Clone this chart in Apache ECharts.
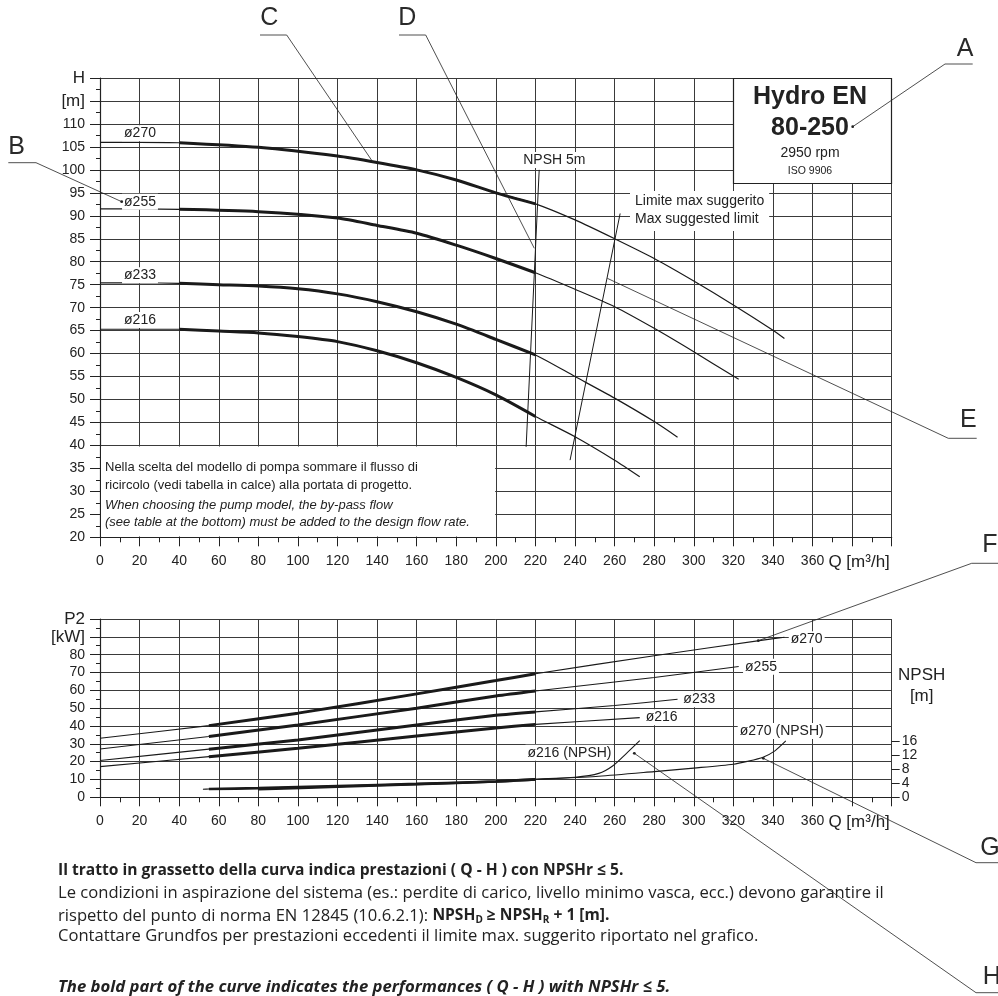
<!DOCTYPE html>
<html><head><meta charset="utf-8">
<script src="https://cdn.jsdelivr.net/npm/echarts@6/dist/echarts.min.js"></script>
<style>html,body{margin:0;padding:0;background:#fff}#c{width:998px;height:996px}</style>
</head><body><div id="c"></div>
<script>
// ---- Q-H curves: [Q m3/h, H m]
const h270 = [[0,106.0],[20,106.0],[40,105.9],[80,104.9],[120,103.0],[140,101.6],[160,100.0],[180,97.8],[200,95.0],[220,92.6],[240,89.1],[260,85.0],[280,80.7],[300,75.8],[320,70.6],[340,65.1],[345.8,63.3]];
const h255 = [[0,91.5],[20,91.5],[40,91.4],[80,90.9],[120,89.5],[140,87.9],[160,86.2],[180,83.6],[200,80.7],[220,77.6],[240,74.0],[260,70.2],[280,65.5],[300,60.4],[320,55.1],[322.7,54.4]];
const h233 = [[0,75.4],[20,75.4],[40,75.3],[60,75.0],[80,74.7],[100,74.1],[120,73.0],[140,71.3],[160,69.1],[180,66.4],[200,63.1],[220,59.7],[240,55.0],[260,50.3],[280,45.2],[291.8,41.8]];
const h216 = [[0,65.3],[20,65.3],[40,65.3],[60,64.9],[80,64.5],[100,63.7],[120,62.6],[140,60.6],[160,58.0],[180,54.8],[200,51.0],[220,46.3],[240,41.9],[260,36.8],[272.7,33.2]];
// ---- P2 curves: [Q, kW]
const p270 = [[0,33.1],[55,40.2],[100,47.2],[160,58.0],[200,65.5],[220,69.3],[280,79.4],[334,88.0],[345.8,89.8]];
const p255 = [[0,27.1],[55,34.1],[100,40.6],[160,50.0],[200,56.8],[220,59.6],[280,67.2],[322.7,73.4]];
const p233 = [[0,20.6],[55,27.0],[100,32.2],[160,40.6],[200,46.0],[220,47.9],[260,51.5],[291.8,55.0]];
const p216 = [[0,17.2],[55,22.8],[100,27.5],[160,34.4],[200,38.9],[220,40.9],[272.7,44.7]];
// ---- NPSH curves: [Q, m]
const n216 = [[52,2.3],[55,2.35],[80,2.6],[120,3.2],[160,3.8],[200,4.5],[220,5.1],[240,5.7],[252,6.8],[259,8.9],[266,12.5],[272.7,16.1]];
const n270 = [[80,2.3],[120,3.0],[160,3.7],[200,4.5],[220,5.1],[252,6.0],[280,7.3],[300,8.3],[320,9.4],[327,10.2],[335,11.4],[341,13.2],[346.5,16.0]];
// ---- reference lines
const npsh5Line = [[221.9,100.0],[215.3,39.7]];
const limitLine = [[237.5,36.8],[262.8,90.5]];
const boldH = [40,220];
const boldP = [55,220];
const boldN = [55,220];
const npshTicks = [0,4,8,12,16];
const hUnit = {120:'H',115:'[m]'};
const pUnit = {100:'P2',90:'[kW]'};
const qUnit = 'Q [m³/h]';

const FF = '"Liberation Sans", Arial, sans-serif';
const INK = '#1a1a1a';
const within = (d, r) => d.filter(p => p[0] >= r[0] && p[0] <= r[1]);

function curve(data, gi, yi, range, thinW, thickW) {
  const base = {type:'line', xAxisIndex:gi, yAxisIndex:yi, showSymbol:false, smooth:0.25, silent:true, animation:false};
  return [
    Object.assign({}, base, {data:data, lineStyle:{color:INK, width:thinW}}),
    Object.assign({}, base, {data:within(data, range), lineStyle:{color:INK, width:thickW}})
  ];
}

function xAx(gi) {
  return {
    type:'value', gridIndex:gi, min:0, max:400, interval:20,
    axisLine:{show:true, onZero:false, lineStyle:{color:'#222', width:1.2}},
    axisTick:{show:true, length:9, lineStyle:{color:'#222'}},
    minorTick:{show:true, splitNumber:2, length:5, lineStyle:{color:'#222'}},
    splitLine:{show:true, lineStyle:{color:'#3a3a3a', width:1}},
    axisLabel:{fontSize:14, color:'#222', fontFamily:FF, margin:17, showMaxLabel:true,
      formatter: v => v === 380 ? '{q|' + qUnit + '}' : (v <= 360 ? String(v) : ''),
      rich:{q:{fontSize:17, fontFamily:FF, color:'#222', padding:[0,0,0,14]}}}
  };
}
function yAx(gi, min, max, itv, units, minorSplit) {
  return {
    type:'value', gridIndex:gi, min:min, max:max, interval:itv,
    axisLine:{show:true, onZero:false, lineStyle:{color:'#222', width:1.2}},
    axisTick:{show:true, length:10, lineStyle:{color:'#222'}},
    minorTick:{show:true, splitNumber:minorSplit, length:4, lineStyle:{color:'#222'}},
    splitLine:{show:true, lineStyle:{color:'#3a3a3a', width:1}},
    axisLabel:{fontSize:14, color:'#222', fontFamily:FF, margin:15, showMaxLabel:true,
      formatter: v => units[v] ? '{u|' + units[v] + '}' : String(v),
      rich:{u:{fontSize:17, fontFamily:FF, color:'#222'}}}
  };
}

const series = [].concat(
  curve(h270,0,0,boldH,1.2,3), curve(h255,0,0,boldH,1.2,3),
  curve(h233,0,0,boldH,1.2,3), curve(h216,0,0,boldH,1.2,3),
  curve(p270,1,1,boldP,1.1,3), curve(p255,1,1,boldP,1.1,3),
  curve(p233,1,1,boldP,1.1,3), curve(p216,1,1,boldP,1.1,3),
  curve(n216,1,2,boldN,1.1,2.6), curve(n270,1,2,boldN,1.1,2.6),
  [{type:'line', xAxisIndex:0, yAxisIndex:0, data:npsh5Line, showSymbol:false, silent:true, lineStyle:{color:INK, width:1}},
   {type:'line', xAxisIndex:0, yAxisIndex:0, data:limitLine, showSymbol:false, silent:true, lineStyle:{color:INK, width:1}}]
);

// ---- annotations (graphic)
const G = [];
function txt(x, y, text, o) {
  G.push({type:'text', x:x, y:y, z:30, silent:true, style:Object.assign({text:text, fill:'#222', fontFamily:FF, fontSize:14, align:'center', verticalAlign:'middle'}, o || {})});
}
function poly(pts, w) {
  G.push({type:'polyline', z:40, silent:true, shape:{points:pts}, style:{stroke:'#222', lineWidth:w || 0.8, fill:null}});
}
function dot(x, y) {
  G.push({type:'circle', z:40, silent:true, shape:{cx:x, cy:y, r:1.4}, style:{fill:'#222'}});
}
// white text box in the H chart
G.push({type:'rect', z:1, silent:true, shape:{x:101, y:446.5, width:394, height:90}, style:{fill:'#fff'}});
txt(105, 467.3, 'Nella scelta del modello di pompa sommare il flusso di', {align:'left', fontSize:13});
txt(105, 485, 'ricircolo (vedi tabella in calce) alla portata di progetto.', {align:'left', fontSize:13});
txt(105, 505, 'When choosing the pump model, the by-pass flow', {align:'left', fontSize:13, fontStyle:'italic'});
txt(105, 522.3, '(see table at the bottom) must be added to the design flow rate.', {align:'left', fontSize:13, fontStyle:'italic'});
// title box
G.push({type:'rect', z:3, silent:true, shape:{x:733.5, y:78.5, width:158, height:105}, style:{fill:'#fff', stroke:'#222', lineWidth:1.2}});
txt(810, 97, 'Hydro EN', {fontSize:25, fontWeight:'bold'});
txt(810, 127.7, '80-250', {fontSize:25, fontWeight:'bold'});
txt(810, 153, '2950 rpm', {fontSize:14});
txt(810, 171, 'ISO 9906', {fontSize:10.5});
// curve labels (H chart)
const wb = {backgroundColor:'#fff', padding:[1,2,1,2]};
txt(140, 133.3, 'ø270', wb); txt(140, 201.7, 'ø255', wb);
txt(140, 275.3, 'ø233', wb); txt(140, 320, 'ø216', wb);
txt(554.3, 160, 'NPSH 5m', wb);
txt(630, 191, 'Limite max suggerito\nMax suggested limit', {align:'left', verticalAlign:'top', backgroundColor:'#fff', padding:[1,5,3,5], lineHeight:18});
// curve labels (P2 chart)
txt(806.7, 639.3, 'ø270', wb); txt(761, 666.7, 'ø255', wb);
txt(699.3, 699.3, 'ø233', wb); txt(661.7, 717.3, 'ø216', wb);
txt(781.7, 731, 'ø270 (NPSH)', wb); txt(569.5, 752.7, 'ø216 (NPSH)', wb);
txt(921.7, 675, 'NPSH', {fontSize:17}); txt(921.7, 696.7, '[m]', {fontSize:17});
// callouts
const L = {fontSize:25, fill:'#2a2a2a'};
poly([[972.7,64],[945,64],[852.7,126.7]]); dot(852.7,126.7); txt(965,49,'A',L);
poly([[8.3,162.7],[36,162.7],[121.7,201.7]]); dot(121.7,201.7); txt(16.7,146.7,'B',L);
poly([[260,35],[286.7,35],[373.3,162.7]]); txt(269.3,18.3,'C',L);
poly([[399,35],[425.7,35],[534.3,248.3]]); txt(407.3,18.3,'D',L);
poly([[976.7,438.3],[948.3,438.3],[607.3,278.3]]); txt(968.3,420,'E',L);
poly([[998,563.3],[971.7,563.3],[758.3,640.7]]); dot(758.3,640.7); txt(990,545,'F',L);
poly([[998,862.7],[976,862.7],[763.3,758.3]]); dot(763.3,758.3); txt(990,848.3,'G',L);
poly([[998,992.7],[976,992.7],[634.3,753.3]]); dot(634.3,753.3); txt(991.7,976.7,'H',L);
// notes
const NF = '"Open Sans", Lato, sans-serif';
const RS = 16.6;
const nt = {align:'left', fontFamily:NF, fontSize:RS, fill:'#222'};
txt(58, 871, 'Il tratto in grassetto della curva indica prestazioni ( Q - H ) con NPSHr ≤ 5.', Object.assign({}, nt, {fontWeight:'bold', fontSize:15.6}));
txt(58, 893.7, 'Le condizioni in aspirazione del sistema (es.: perdite di carico, livello minimo vasca, ecc.) devono garantire il', nt);
txt(58, 916, '{r|rispetto del punto di norma EN 12845 (10.6.2.1): }{b|NPSH}{s|D}{b| ≥ NPSH}{s|R}{b| + 1 [m].}', Object.assign({}, nt, {rich:{
  r:{fontFamily:NF, fontSize:RS, fill:'#222', lineHeight:19},
  b:{fontFamily:NF, fontSize:15.6, fontWeight:'bold', fill:'#222', lineHeight:19},
  s:{fontFamily:NF, fontSize:10, fontWeight:'bold', fill:'#222', lineHeight:19, verticalAlign:'bottom'}}}));
txt(58, 936.7, 'Contattare Grundfos per prestazioni eccedenti il limite max. suggerito riportato nel grafico.', nt);
txt(58, 987.7, 'The bold part of the curve indicates the performances ( Q - H ) with NPSHr ≤ 5.', Object.assign({}, nt, {fontWeight:'bold', fontStyle:'italic', fontSize:16.7}));

const option = {
  animation:false,
  backgroundColor:'#fff',
  textStyle:{fontFamily:FF},
  grid:[{left:100, top:78, width:791.7, height:459.3},{left:100, top:619, width:791.7, height:178.3}],
  xAxis:[xAx(0), xAx(1)],
  yAxis:[
    yAx(0, 20, 120, 5, hUnit, 2),
    yAx(1, 0, 100, 10, pUnit, 2),
    {type:'value', gridIndex:1, position:'right', min:0, max:50.65,
     axisLine:{show:false}, splitLine:{show:false}, axisTick:{show:false},
     axisLabel:{customValues:npshTicks, fontSize:14, color:'#222', fontFamily:FF, margin:10}}
  ],
  series:series
};
const chart = echarts.init(document.getElementById('c'), null, {renderer:'canvas'});
chart.setOption(option);
// NPSH axis ticks, placed through the NPSH axis scale
const xr = chart.convertToPixel({xAxisIndex:1}, 400);
npshTicks.forEach(v => {
  const y = Math.round(chart.convertToPixel({yAxisIndex:2}, v)) + 0.5;
  G.push({type:'line', z:40, silent:true, shape:{x1:xr, y1:y, x2:xr + 8, y2:y}, style:{stroke:'#222', lineWidth:1}});
});
chart.setOption({graphic:G});
</script></body></html>
